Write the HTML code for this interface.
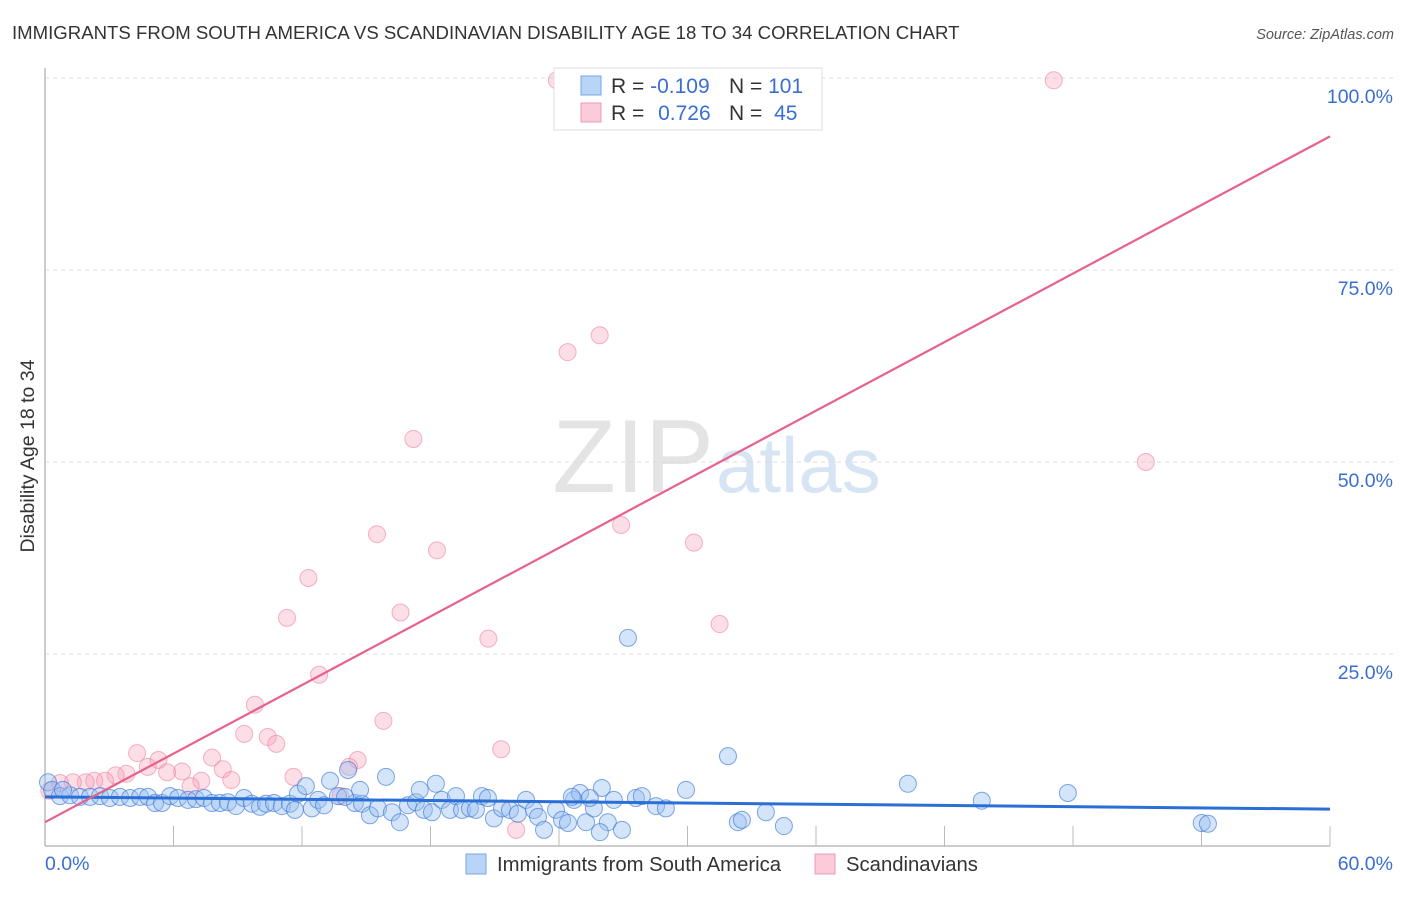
<!DOCTYPE html>
<html><head><meta charset="utf-8"><style>
body{margin:0;background:#fff;font-family:"Liberation Sans",sans-serif}
svg text{font-family:"Liberation Sans",sans-serif}
</style></head><body>
<svg width="1406" height="892" xmlns="http://www.w3.org/2000/svg">
<text x="12" y="39" font-size="18.6" fill="#333">IMMIGRANTS FROM SOUTH AMERICA VS SCANDINAVIAN DISABILITY AGE 18 TO 34 CORRELATION CHART</text>
<text x="1394" y="39" font-size="14.5" fill="#555" font-style="italic" text-anchor="end">Source: ZipAtlas.com</text>
<text x="34" y="456" font-size="19.5" fill="#333" text-anchor="middle" transform="rotate(-90 34 456)">Disability Age 18 to 34</text>
<text x="714" y="492" font-size="104" fill="#e4e4e4" text-anchor="end" font-family="Liberation Serif">ZIP</text>
<text x="716" y="492" font-size="78" fill="#d6e4f4">atlas</text>
<g id="grid"></g><g id="axes"></g><g id="pts"></g><g id="trends"></g>
<g>
<rect x="554" y="68" width="268" height="62" fill="#fff" stroke="#ddd"/>
<rect x="581" y="76" width="20" height="19" fill="#b8d4f6" stroke="#7aa6e4"/>
<rect x="581" y="103" width="20" height="19" fill="#fbcbd9" stroke="#f09ab2"/>
<text x="611" y="93" font-size="21" fill="#333">R = <tspan fill="#3a6fd1">-0.109</tspan></text>
<text x="729" y="93" font-size="21" fill="#333">N = <tspan fill="#3a6fd1">101</tspan></text>
<text x="611" y="120" font-size="21" fill="#333">R = <tspan fill="#3a6fd1" dx="8">0.726</tspan></text>
<text x="729" y="120" font-size="21" fill="#333">N = <tspan fill="#3a6fd1" dx="6">45</tspan></text>
</g>
<g>
<rect x="466" y="854" width="20" height="20" fill="#b8d4f6" stroke="#7aa6e4"/>
<text x="497" y="871" font-size="20.3" fill="#333">Immigrants from South America</text>
<rect x="815" y="854" width="20" height="20" fill="#fbcbd9" stroke="#f09ab2"/>
<text x="846" y="871" font-size="20.3" fill="#333">Scandinavians</text>
</g>
</svg>
<script>
const xTicks=[0,60];
const yTicks=[25,50,75,100];
const blueX=[0.14,0.33,0.70,1.17,1.63,2.10,2.57,3.03,3.50,3.97,4.44,4.81,5.14,5.46,5.84,6.21,6.68,7.05,7.42,7.80,8.17,8.54,8.92,9.29,9.66,10.04,10.32,10.69,11.06,11.44,11.81,12.18,12.46,12.75,13.03,13.31,13.68,14.15,14.47,14.80,15.17,15.55,15.92,16.20,16.57,16.95,17.32,17.69,18.07,18.25,18.53,18.91,19.19,19.47,19.84,20.12,20.40,20.68,20.96,21.34,21.71,22.08,22.46,22.83,23.02,23.30,23.86,24.14,24.42,24.70,24.98,25.26,25.63,26.00,26.28,26.56,26.94,27.22,27.59,27.87,28.53,28.99,29.93,31.89,32.35,32.54,33.66,34.50,40.29,43.74,47.76,54.01,54.30,24.60,25.44,25.91,14.01,14.71,0.84,11.67,17.5];
const blueY=[8.3,7.3,6.5,6.6,6.4,6.4,6.5,6.25,6.4,6.25,6.4,6.4,5.6,5.6,6.5,6.25,6.0,6.1,6.25,5.6,5.6,5.7,5.2,6.25,5.5,5.1,5.5,5.6,5.2,5.5,6.8,7.8,4.9,6.0,5.3,8.5,6.5,9.9,5.6,5.5,4.0,4.9,9.0,4.4,3.1,5.3,5.7,4.7,4.4,8.1,6.0,4.7,6.5,4.7,4.9,4.7,6.5,6.25,3.6,4.9,4.7,4.2,6.0,4.7,3.8,2.1,4.7,3.4,3.0,6.0,6.9,3.1,4.9,7.55,3.1,6.0,2.1,27.1,6.25,6.5,5.2,4.9,7.3,11.7,3.1,3.4,4.4,2.6,8.1,5.9,6.9,3.0,2.9,6.4,6.25,1.8,6.4,7.3,7.3,4.7,7.3];
const pinkX=[23.9,47.1,24.4,25.9,17.2,51.4,15.5,18.3,26.9,30.3,12.3,11.3,16.6,20.7,31.5,12.8,9.8,9.3,10.4,10.8,15.8,21.3,4.3,7.8,5.3,4.8,8.3,14.6,14.2,6.4,5.7,3.8,3.3,11.6,7.3,8.7,2.8,2.3,1.9,1.3,0.7,6.8,13.8,22.0,0.2];
const pinkY=[99.7,99.7,64.3,66.5,53.0,50.0,40.6,38.5,41.8,39.5,34.9,29.7,30.4,27.0,28.9,22.3,18.4,14.6,14.2,13.3,16.3,12.6,12.1,11.5,11.2,10.3,10.0,11.2,10.3,9.7,9.6,9.4,9.2,9.0,8.5,8.6,8.5,8.5,8.3,8.3,8.2,7.8,6.5,2.1,7.2];
const blueTrend=[6.4,4.8];
const pinkTrend=[3.1,92.4];
const NS="http://www.w3.org/2000/svg";
const X=v=>45+v/60*1285, Y=v=>846-v*7.68;
function mk(p,t,a){const e=document.createElementNS(NS,t);for(const k in a)e.setAttribute(k,a[k]);p.appendChild(e);return e;}
const grid=document.getElementById('grid'),axes=document.getElementById('axes'),pts=document.getElementById('pts'),tr=document.getElementById('trends');
yTicks.forEach(v=>{
 const l=mk(grid,'line',{x1:45,x2:1395,y1:Y(v),y2:Y(v),stroke:'#ddd','stroke-dasharray':'4 4'});
 
 
 const t=mk(axes,'text',{x:1393,y:Y(v)+25,'font-size':19.5,fill:'#3a6fd1','text-anchor':'end'});t.textContent=v.toFixed(1)+'%';
 
 
});
const ax=mk(axes,'line',{x1:45,x2:1330,y1:846,y2:846,stroke:'#bbb','stroke-width':1.5});


const ay=mk(axes,'line',{x1:45,x2:45,y1:68,y2:846,stroke:'#bbb','stroke-width':1.5});


for(let i=1;i<=10;i++){const tk=mk(axes,'line',{x1:X(i*6),x2:X(i*6),y1:826,y2:846,stroke:'#bbb'});
 
 }
xTicks.forEach((v,i)=>{const t=mk(axes,'text',{x:i?1393:45,y:870,'font-size':19.5,fill:'#3a6fd1','text-anchor':i?'end':'start'});t.textContent=v.toFixed(1)+'%';
 
 });
pinkX.forEach((v,i)=>{const c=mk(pts,'circle',{cx:X(v),cy:Y(pinkY[i]),r:8.5,fill:'rgba(246,160,186,0.35)',stroke:'rgba(236,130,160,0.6)','stroke-width':1});
 
 });
blueX.forEach((v,i)=>{const c=mk(pts,'circle',{cx:X(v),cy:Y(blueY[i]),r:8.5,fill:'rgba(150,190,240,0.4)',stroke:'rgba(60,120,215,0.65)','stroke-width':1});
 
 });
const bt=mk(tr,'line',{x1:X(0),x2:X(60),y1:Y(blueTrend[0]),y2:Y(blueTrend[1]),stroke:'#2a6fd6','stroke-width':3});


const pt=mk(tr,'line',{x1:X(0),x2:X(60),y1:Y(pinkTrend[0]),y2:Y(pinkTrend[1]),stroke:'#e8608c','stroke-width':2.2});


</script>
</body></html>
